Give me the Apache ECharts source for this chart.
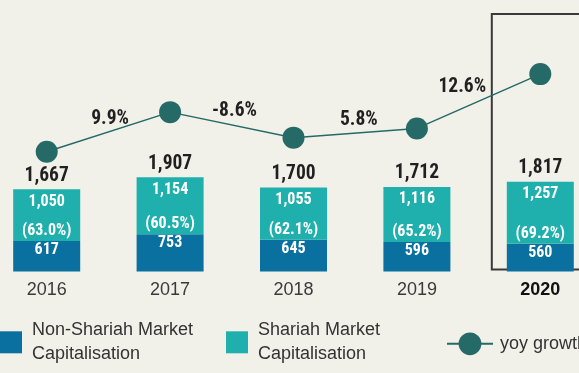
<!DOCTYPE html>
<html>
<head>
<meta charset="utf-8">
<script src="https://cdn.jsdelivr.net/npm/echarts@6/dist/echarts.min.js"></script>
<style>
  html, body { margin: 0; padding: 0; background: #f1f0e9; }
  #chart { width: 579px; height: 373px; }
</style>
</head>
<body>
<div id="chart"></div>
<script>
// Market capitalisation (RM billion) by year
const years = ['2016', '2017', '2018', '2019', '2020'];
const nonShariah = [617, 753, 645, 596, 560];
const shariah = [1050, 1154, 1055, 1116, 1257];
// year-on-year growth of total capitalisation (%)
const yoyGrowth = [null, 9.9, -8.6, 5.8, 12.6];
// height of each growth marker on its own hidden 0–100 track
const growthTrack = [44.1, 58.7, 49.3, 52.7, 72.7];
const highlightYear = '2020';

const NAME_NON = 'Non-Shariah Market\nCapitalisation';
const NAME_SHA = 'Shariah Market\nCapitalisation';
const NAME_YOY = 'yoy growth';

const COND = "'Liberation Sans Narrow', 'Roboto Condensed', 'DejaVu Sans Condensed', sans-serif";
const REG = "'Liberation Sans', Arial, Helvetica, sans-serif";
const C_NON = '#0a70a0';
const C_SHA = '#1fb0ad';
const C_YOY = '#256a66';
const C_TEXT = '#231f20';

const totals = years.map((_, i) => nonShariah[i] + shariah[i]);
const fmt = v => v.toLocaleString('en-US');
const shareOf = i => (shariah[i] / totals[i] * 100).toFixed(1) + '%';

// growth labels sit between the two years they compare
const growthLabelOffset = [[0, 0], [-60, 7], [-59, -27], [-58, -8], [-78, 13]];

const chart = echarts.init(document.getElementById('chart'), null, { renderer: 'canvas' });

const legendBase = {
  orient: 'horizontal',
  padding: 0,
  itemGap: 0,
  selectedMode: false,
  textStyle: { fontFamily: REG, fontSize: 18, color: '#333', lineHeight: 24, padding: [24, 0, 0, 5] }
};

chart.setOption({
  backgroundColor: '#f1f0e9',
  animation: false,
  grid: { left: -15, right: -23, top: 0, bottom: 101.5, outerBoundsMode: 'none', containLabel: false },
  xAxis: {
    type: 'category',
    data: years,
    axisLine: { show: false },
    axisTick: { show: false },
    axisLabel: {
      margin: 10,
      formatter: v => v === highlightYear ? '{b|' + v + '}' : '{n|' + v + '}',
      rich: {
        n: { fontFamily: REG, fontSize: 18, lineHeight: 18, color: '#3a3a3a' },
        b: { fontFamily: REG, fontSize: 18, lineHeight: 18, color: '#111', fontWeight: 'bold' }
      }
    }
  },
  yAxis: [
    { type: 'value', min: 0, max: 5500, show: false },
    { type: 'value', min: 0, max: 100, show: false }
  ],
  legend: [
    Object.assign({}, legendBase, {
      left: 0, top: 306.3, itemWidth: 22, itemHeight: 22,
      data: [{ name: NAME_NON, icon: 'rect' }]
    }),
    Object.assign({}, legendBase, {
      left: 226, top: 306.3, itemWidth: 22, itemHeight: 22,
      data: [{ name: NAME_SHA, icon: 'rect' }]
    }),
    Object.assign({}, legendBase, {
      left: 446, top: 331.8, itemWidth: 46, itemHeight: 28.5,
      textStyle: { fontFamily: REG, fontSize: 18, color: '#333', lineHeight: 24, padding: [0, 0, 0, 2] },
      data: [{ name: NAME_YOY }]
    })
  ],
  series: [
    {
      name: NAME_NON,
      type: 'bar',
      stack: 'cap',
      barWidth: 67,
      itemStyle: { color: C_NON },
      data: nonShariah,
      label: {
        show: true,
        position: 'insideTop',
        distance: 0,
        offset: [0, -19.5],
        formatter: p => '{p|(' + shareOf(p.dataIndex) + ')}\n{v|' + fmt(p.value) + '}',
        rich: {
          p: { fontFamily: COND, fontSize: 16, fontWeight: 'bold', color: '#fff', lineHeight: 19, align: 'center' },
          v: { fontFamily: COND, fontSize: 16, fontWeight: 'bold', color: '#fff', lineHeight: 19, align: 'center' }
        }
      },
      z: 3
    },
    {
      name: NAME_SHA,
      type: 'bar',
      stack: 'cap',
      barWidth: 67,
      itemStyle: { color: C_SHA },
      data: shariah,
      label: {
        show: true,
        position: 'insideTop',
        distance: 0,
        offset: [0, -27.5],
        formatter: p => '{t|' + fmt(totals[p.dataIndex]) + '}\n{v|' + fmt(p.value) + '}',
        rich: {
          t: { fontFamily: COND, fontSize: 19.5, fontWeight: 'bold', color: C_TEXT, lineHeight: 28, align: 'center' },
          v: { fontFamily: COND, fontSize: 16, fontWeight: 'bold', color: '#fff', lineHeight: 24, align: 'center' }
        }
      },
      z: 3
    },
    {
      name: NAME_YOY,
      type: 'line',
      yAxisIndex: 1,
      symbol: 'circle',
      symbolSize: 22,
      itemStyle: { color: C_YOY },
      lineStyle: { color: C_YOY, width: 1.5 },
      data: growthTrack.map((v, i) => ({
        value: v,
        label: {
          show: yoyGrowth[i] !== null,
          position: 'inside',
          offset: growthLabelOffset[i],
          formatter: () => yoyGrowth[i].toFixed(1) + '%',
          fontFamily: COND, fontSize: 19.5, fontWeight: 'bold', color: C_TEXT
        }
      })),
      z: 4
    }
  ]
});

// frame around the highlighted year
const hx = chart.convertToPixel({ xAxisIndex: 0 }, highlightYear);
chart.setOption({
  graphic: [{
    type: 'rect',
    z: 1,
    silent: true,
    shape: { x: hx - 48.5, y: 14, width: 200, height: 255.5 },
    style: { fill: 'none', stroke: '#3a3a3a', lineWidth: 2 }
  }]
});
</script>
</body>
</html>
